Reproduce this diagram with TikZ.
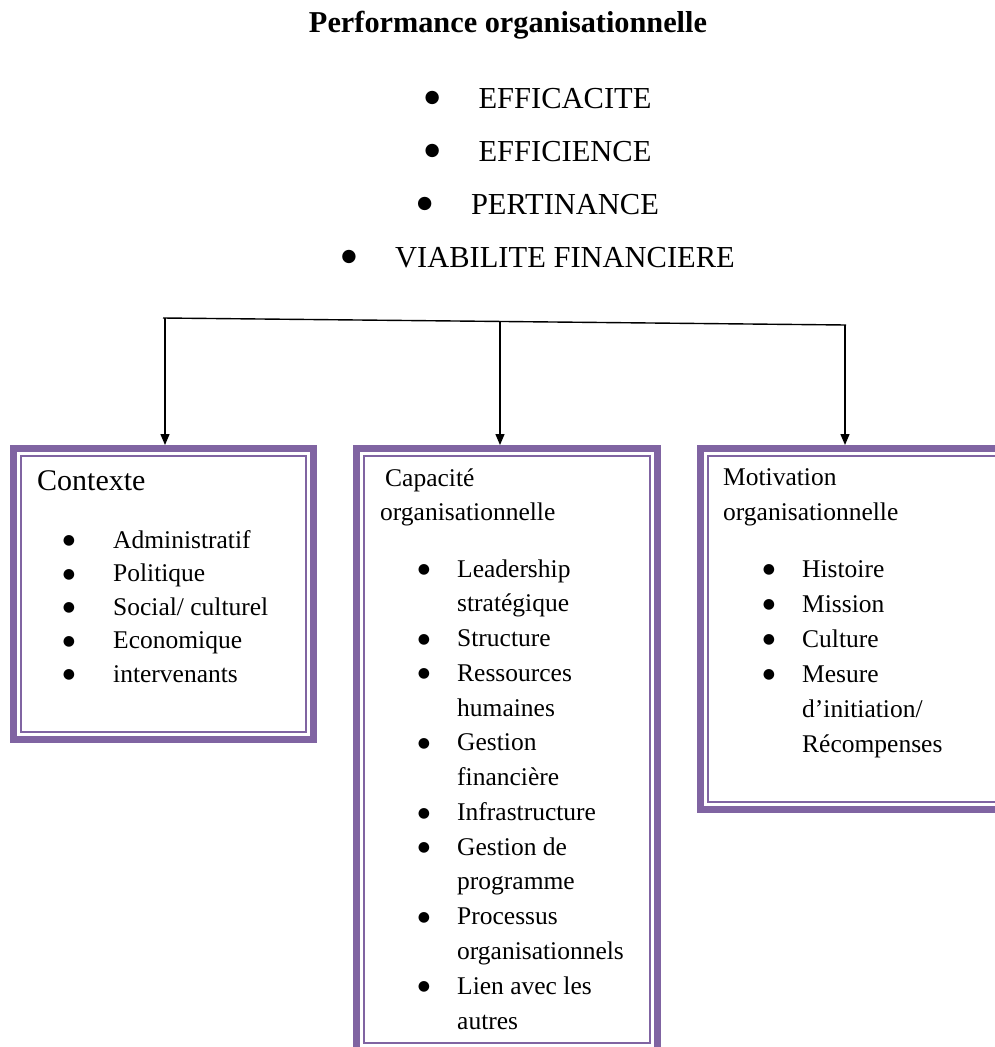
\documentclass[tikz,border=0pt]{standalone}
\usepackage{fontspec}
\setmainfont{Liberation Serif}
\newfontfamily\bulletfont{DejaVu Sans}
\usetikzlibrary{arrows.meta}
\definecolor{boxpurple}{HTML}{8064A2}
\begin{document}
\begin{tikzpicture}[x=1pt,y=-1pt,
  txt/.style={inner sep=0pt, anchor=base west, font=\fontsize{25.5}{30}\selectfont},
  bul/.style={inner sep=0pt, anchor=center, font=\bulletfont\fontsize{14}{14}\selectfont},
  toptxt/.style={inner sep=0pt, anchor=base, font=\fontsize{30.5}{36}\selectfont},
  topbul/.style={inner sep=0pt, anchor=center, font=\bulletfont\fontsize{17.5}{17.5}\selectfont},
  frame/.style={draw=boxpurple, line width=7pt, outer sep=3.5pt, inner sep=0pt},
  innerframe/.style={draw=boxpurple, line width=2pt},
  link/.style={line width=1.4pt},
  arr/.style={link, -{Triangle[length=11pt,width=9pt]}}]
\useasboundingbox (0,0) rectangle (995,1047);
\clip (0,0) rectangle (995,1047);

% heading and the four performance criteria
\node (title) [anchor=base, inner sep=0pt, font=\bfseries\fontsize{30.3}{36}\selectfont]
  at (508,32) {Performance organisationnelle};
\foreach \t/\y [count=\i] in {EFFICACITE/108, EFFICIENCE/161, PERTINANCE/214, {VIABILITE FINANCIERE}/267} {
  \node[toptxt] (kpi-\i) at (565,\y) {\t};
  \node[topbul] (kpib-\i) at ([xshift=-46pt,yshift=10pt]kpi-\i.base west) {●};
}

% the three framed boxes
\node (ctx) [frame, minimum width=300pt, minimum height=291pt] at (163.5,594) {};
\node (cap) [frame, minimum width=301pt, minimum height=602pt] at (507,749.5) {};
\node (mot) [frame, minimum width=303pt, minimum height=361pt] at (852,629) {};
\foreach \b in {ctx,cap,mot}
  \draw[innerframe] ([xshift=11pt,yshift=-11pt]\b.north west) rectangle ([xshift=-11pt,yshift=11pt]\b.south east);

% distribution bar and arrows
\coordinate (barL) at (163,318);
\coordinate (barR) at (846,325);
\draw[link] (barL) -- (barR);
\coordinate (b1) at (165,318);
\coordinate (b2) at (500,321.5);
\coordinate (b3) at (845,325);
\draw[arr] (b1) -- (b1 |- ctx.north);
\draw[arr] (b2) -- (b2 |- cap.north);
\draw[arr] (b3) -- (b3 |- mot.north);

% Contexte
\node[txt, font=\fontsize{30}{36}\selectfont] (ctx-h) at (37,490) {Contexte};
\foreach \t [count=\i, evaluate=\i as \y using 548+33.5*(\i-1)] in
  {Administratif, Politique, {Social/ culturel}, Economique, intervenants} {
  \node[bul] (ctxb-\i) at (69,{\y-7}) {●};
  \node[txt] (ctx-\i) at (113,\y) {\t};
}

% Capacité organisationnelle
\node[txt] (cap-h1) at (385,486) {Capacité};
\node[txt] (cap-h2) at (380,520) {organisationnelle};
\foreach \b/\t [count=\i, evaluate=\i as \y using 577+34.77*(\i-1)] in
  {1/Leadership, 0/stratégique, 1/Structure, 1/Ressources, 0/humaines,
   1/Gestion, 0/financière, 1/Infrastructure, 1/{Gestion de}, 0/programme,
   1/Processus, 0/organisationnels, 1/{Lien avec les}, 0/autres} {
  \ifnum\b=1 \node[bul] (capb-\i) at (424,{\y-7}) {●};\fi
  \node[txt] (cap-\i) at (457,\y) {\t};
}

% Motivation organisationnelle
\node[txt] (mot-h1) at (723,485) {Motivation};
\node[txt] (mot-h2) at (723,520) {organisationnelle};
\foreach \b/\t [count=\i, evaluate=\i as \y using 577+35*(\i-1)] in
  {1/Histoire, 1/Mission, 1/Culture, 1/Mesure, 0/{d’initiation/}, 0/Récompenses} {
  \ifnum\b=1 \node[bul] (motb-\i) at (769,{\y-7}) {●};\fi
  \node[txt] (mot-\i) at (802,\y) {\t};
}
\end{tikzpicture}
\end{document}
